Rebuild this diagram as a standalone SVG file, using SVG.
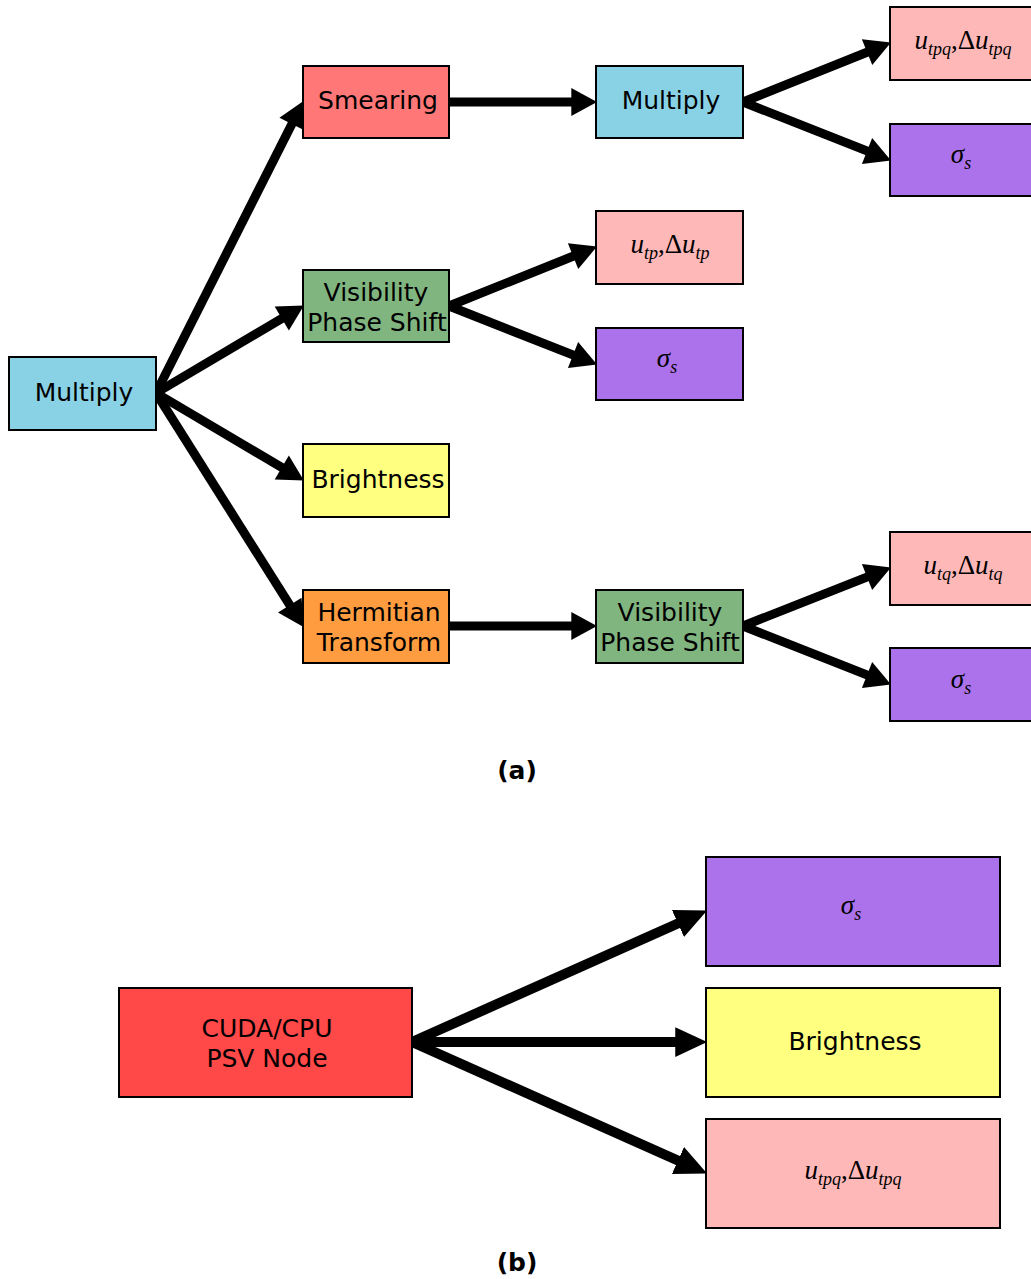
<svg xmlns="http://www.w3.org/2000/svg" width="1031" height="1279" viewBox="0 0 1031 1279">
<style>
.box{stroke:#000;stroke-width:2}
.lbl{font-family:"DejaVu Sans",sans-serif;font-size:25px;text-anchor:middle;fill:#000}
.math{font-family:"Liberation Serif","DejaVu Serif",serif;font-size:27px;font-style:italic;text-anchor:middle;fill:#000}
.up{font-style:normal}
.sub{font-size:18px}
.cap{font-family:"DejaVu Sans",sans-serif;font-size:25px;font-weight:bold;text-anchor:middle;fill:#000}
.c1{stroke:#000;stroke-width:9;fill:none;marker-end:url(#ah1)}
.c2{stroke:#000;stroke-width:10;fill:none;marker-end:url(#ah2)}
.blue{fill:#89d2e6}.rose{fill:#ff7777}.green{fill:#80b580}.yellow{fill:#ffff80}.orange{fill:#ff9c40}.pink{fill:#ffb8b8}.purple{fill:#ac72ec}.red{fill:#ff4848}
</style>
<defs>
<marker id="ah1" markerUnits="userSpaceOnUse" markerWidth="30" markerHeight="30" viewBox="0 -14 26 28" refX="10" refY="0" orient="auto">
<path d="M0,-13 L24,0 L0,13 z" fill="#000"/>
</marker>
<marker id="ah2" markerUnits="userSpaceOnUse" markerWidth="34" markerHeight="32" viewBox="0 -15 32 30" refX="12" refY="0" orient="auto">
<path d="M0,-14 L30,0 L0,14 z" fill="#000"/>
</marker>
</defs>
<rect width="1031" height="1279" fill="#fff"/>

<g id="connectors">
<line class="c1" x1="156" y1="393" x2="296.7" y2="114.5"/>
<line class="c1" x1="156" y1="393" x2="291" y2="313.1"/>
<line class="c1" x1="156" y1="393" x2="291" y2="472.9"/>
<line class="c1" x1="156" y1="393" x2="295.5" y2="614.2"/>
<line class="c1" x1="449" y1="102" x2="582" y2="102"/>
<line class="c1" x1="743" y1="102" x2="877" y2="48.2"/>
<line class="c1" x1="743" y1="102" x2="877" y2="154.9"/>
<line class="c1" x1="449" y1="306" x2="583" y2="252.2"/>
<line class="c1" x1="449" y1="306" x2="583" y2="358.9"/>
<line class="c1" x1="449" y1="626" x2="582" y2="626"/>
<line class="c1" x1="743" y1="626" x2="877" y2="573.1"/>
<line class="c1" x1="743" y1="626" x2="877" y2="678.9"/>
<line class="c2" x1="412" y1="1042" x2="689.6" y2="918.3"/>
<line class="c2" x1="412" y1="1042" x2="688" y2="1042"/>
<line class="c2" x1="412" y1="1042" x2="689.6" y2="1165.7"/>
</g>

<g id="multiply1"><rect class="box blue" x="9" y="357" width="147" height="73"/><text class="lbl" x="84" y="401">Multiply</text></g>
<g id="smearing"><rect class="box rose" x="303" y="66" width="146" height="72"/><text class="lbl" x="378" y="109">Smearing</text></g>
<g id="multiply2"><rect class="box blue" x="596" y="66" width="147" height="72"/><text class="lbl" x="671" y="109">Multiply</text></g>
<g id="out_utpq"><rect class="box pink" x="890" y="7" width="150" height="73"/><text class="math" x="963" y="49">u<tspan class="sub" dy="6">tpq</tspan><tspan class="up" dy="-6">,Δ</tspan>u<tspan class="sub" dy="6">tpq</tspan></text></g>
<g id="out_sigma1"><rect class="box purple" x="890" y="124" width="150" height="72"/><text class="math" x="961" y="163">σ<tspan class="sub" dy="6">s</tspan></text></g>
<g id="vps1"><rect class="box green" x="303" y="270" width="146" height="72"/><text class="lbl" x="376" y="301">Visibility</text><text class="lbl" x="377" y="331">Phase Shift</text></g>
<g id="out_utp"><rect class="box pink" x="596" y="211" width="147" height="73"/><text class="math" x="670" y="253">u<tspan class="sub" dy="6">tp</tspan><tspan class="up" dy="-6">,Δ</tspan>u<tspan class="sub" dy="6">tp</tspan></text></g>
<g id="out_sigma2"><rect class="box purple" x="596" y="328" width="147" height="72"/><text class="math" x="667" y="367">σ<tspan class="sub" dy="6">s</tspan></text></g>
<g id="brightness1"><rect class="box yellow" x="303" y="444" width="146" height="73"/><text class="lbl" x="378" y="488">Brightness</text></g>
<g id="hermitian"><rect class="box orange" x="303" y="590" width="146" height="73"/><text class="lbl" x="379" y="621">Hermitian</text><text class="lbl" x="379" y="651">Transform</text></g>
<g id="vps2"><rect class="box green" x="596" y="590" width="147" height="73"/><text class="lbl" x="670" y="621">Visibility</text><text class="lbl" x="670" y="651">Phase Shift</text></g>
<g id="out_utq"><rect class="box pink" x="890" y="532" width="150" height="73"/><text class="math" x="963" y="574">u<tspan class="sub" dy="6">tq</tspan><tspan class="up" dy="-6">,Δ</tspan>u<tspan class="sub" dy="6">tq</tspan></text></g>
<g id="out_sigma3"><rect class="box purple" x="890" y="648" width="150" height="73"/><text class="math" x="961" y="688">σ<tspan class="sub" dy="6">s</tspan></text></g>

<text class="cap" x="517" y="779">(a)</text>

<g id="psv"><rect class="box red" x="119" y="988" width="293" height="109"/><text class="lbl" x="267" y="1037">CUDA/CPU</text><text class="lbl" x="267" y="1067">PSV Node</text></g>
<g id="b_sigma"><rect class="box purple" x="706" y="857" width="294" height="109"/><text class="math" x="851" y="914">σ<tspan class="sub" dy="6">s</tspan></text></g>
<g id="b_brightness"><rect class="box yellow" x="706" y="988" width="294" height="109"/><text class="lbl" x="855" y="1050">Brightness</text></g>
<g id="b_utpq"><rect class="box pink" x="706" y="1119" width="294" height="109"/><text class="math" x="853" y="1179">u<tspan class="sub" dy="6">tpq</tspan><tspan class="up" dy="-6">,Δ</tspan>u<tspan class="sub" dy="6">tpq</tspan></text></g>

<text class="cap" x="517" y="1271">(b)</text>
</svg>
